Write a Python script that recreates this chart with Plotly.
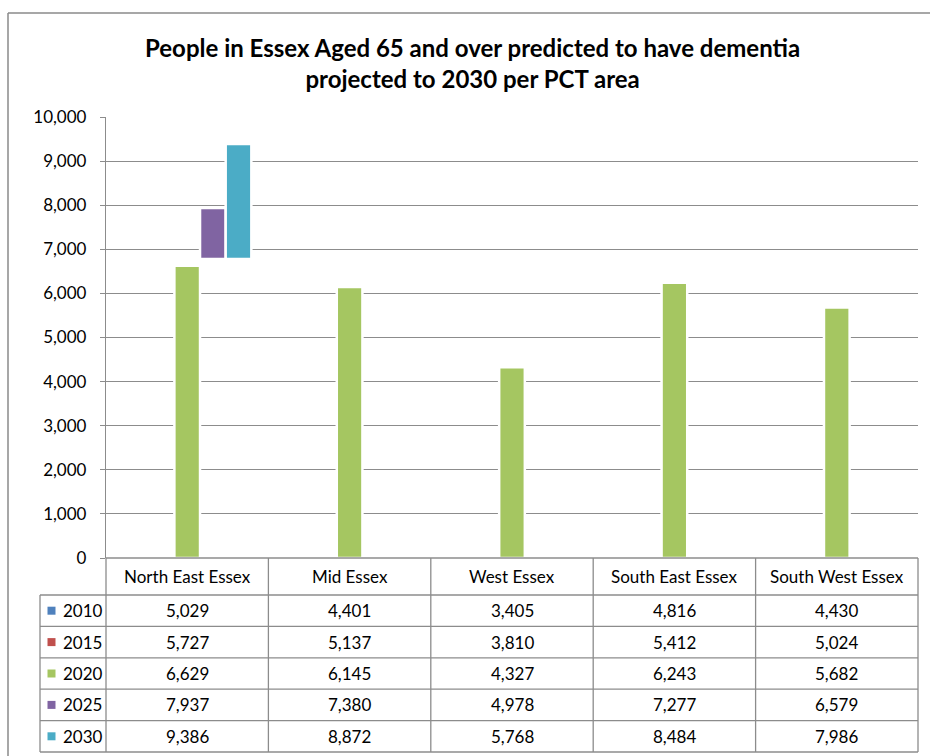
import plotly.graph_objects as go

# ---- data -------------------------------------------------------------
areas = ["North East Essex", "Mid Essex", "West Essex", "South East Essex", "South West Essex"]
years = ["2010", "2015", "2020", "2025", "2030"]
v2010 = [5029, 4401, 3405, 4816, 4430]
v2015 = [5727, 5137, 3810, 5412, 5024]
v2020 = [6629, 6145, 4327, 6243, 5682]
v2025 = [7937, 7380, 4978, 7277, 6579]
v2030 = [9386, 8872, 5768, 8484, 7986]
series = [v2010, v2015, v2020, v2025, v2030]
colors = ["#4F81BD", "#C0504D", "#A5C661", "#8064A2", "#4BACC6"]

# which bars get painted, and where the painted part of a bar starts
shown = [
    [0, 0, 0, 0, 0],
    [0, 0, 0, 0, 0],
    [1, 1, 1, 1, 1],
    [1, 0, 0, 0, 0],
    [1, 0, 0, 0, 0],
]
paint_from = [
    [0, 0, 0, 0, 0],
    [0, 0, 0, 0, 0],
    [0, 0, 0, 0, 0],
    [6780, 0, 0, 0, 0],
    [6780, 0, 0, 0, 0],
]
y_ticks = list(range(0, 10001, 1000))

# ---- geometry (pixels) ------------------------------------------------
W, H = 930, 756
PL, PR, PT, PB = 106, 918, 117, 558      # plot area
GRID = "#8c8c8c"
FONT = "Lato"


def px(x):
    return x / W


def py(y):
    return 1 - y / H


fig = go.Figure()
for yr, vals, col, mask, base in zip(years, series, colors, shown, paint_from):
    fig.add_trace(go.Bar(
        x=areas,
        y=[v - b for v, b in zip(vals, base)],
        base=base,
        name=yr,
        marker=dict(
            color=col,
            opacity=mask,
            line=dict(color="white", width=[2.5 if m else 0 for m in mask]),
        ),
        hoverinfo="skip",
    ))

shapes = []
annotations = []


def hline(x0, x1, y, color=GRID, width=1.3):
    shapes.append(dict(type="line", xref="paper", yref="paper", layer="above",
                       x0=px(x0), x1=px(x1), y0=py(y), y1=py(y),
                       line=dict(color=color, width=width)))


def vline(x, y0, y1, color=GRID, width=1.3):
    shapes.append(dict(type="line", xref="paper", yref="paper", layer="above",
                       x0=px(x), x1=px(x), y0=py(y0), y1=py(y1),
                       line=dict(color=color, width=width)))


# outer chart frame
vline(8, 13, H, color="#8a8a8a", width=1.5)
hline(8, W, 13, color="#8a8a8a", width=1.5)

# data table
col_w = (PR - PL) / len(areas)
row_top = 595
row_h = 31.4
rows_bottom = row_top + row_h * len(years)
hline(PL, PR, PB)
hline(PL, PR, row_top)
hline(40, PL, row_top)
for i in range(len(years)):
    hline(40, PR, row_top + row_h * (i + 1))
vline(40, row_top, rows_bottom)
vline(PL, PB, rows_bottom)
for j in range(1, len(areas) + 1):
    vline(PL + col_w * j, PB, rows_bottom)

cell_font = dict(family=FONT, size=17, color="#000000")
for j, name in enumerate(areas):
    cx = PL + col_w * (j + 0.5)
    annotations.append(dict(xref="paper", yref="paper", x=px(cx), y=py((PB + row_top) / 2),
                            text=name, showarrow=False, font=cell_font,
                            xanchor="center", yanchor="middle"))
    for i, vals in enumerate(series):
        cy = row_top + row_h * (i + 0.5)
        annotations.append(dict(xref="paper", yref="paper", x=px(cx), y=py(cy),
                                text=f"{vals[j]:,}", showarrow=False, font=cell_font,
                                xanchor="center", yanchor="middle"))

for i, (yr, col) in enumerate(zip(years, colors)):
    cy = row_top + row_h * (i + 0.5)
    shapes.append(dict(type="rect", xref="paper", yref="paper", layer="above",
                       x0=px(47.5), x1=px(55.5), y0=py(cy - 4), y1=py(cy + 4),
                       fillcolor=col, line=dict(width=0)))
    annotations.append(dict(xref="paper", yref="paper", x=px(61), y=py(cy),
                            text=yr, showarrow=False, font=cell_font,
                            xanchor="left", yanchor="middle"))

# title
annotations.append(dict(xref="paper", yref="paper", x=px(473), y=py(63),
                        text="<b>People in Essex Aged 65 and over predicted to have dementia<br>"
                             "projected to 2030 per PCT area</b>",
                        showarrow=False, align="center",
                        font=dict(family=FONT, size=24, color="#000000"),
                        xanchor="center", yanchor="middle"))

fig.update_layout(
    template="none",
    width=W, height=H,
    margin=dict(l=0, r=0, t=0, b=0, pad=0),
    paper_bgcolor="white", plot_bgcolor="white",
    barmode="group", bargap=0.21, bargroupgap=0,
    showlegend=False,
    shapes=shapes, annotations=annotations,
    xaxis=dict(domain=[px(PL), px(PR)], showticklabels=False, showgrid=False,
               showline=False, zeroline=False, ticks="", automargin=False),
    yaxis=dict(domain=[py(PB), py(PT)], range=[0, 10000], tickvals=y_ticks,
               tickformat=",d", showgrid=True, gridcolor=GRID, gridwidth=1.3,
               zeroline=False, showline=True, linecolor=GRID, linewidth=1.3,
               ticks="outside", ticklen=5, tickcolor=GRID, tickwidth=1.3,
               ticklabelstandoff=10, automargin=False,
               tickfont=dict(family=FONT, size=17, color="#000000")),
)

fig.write_html("out.html")
